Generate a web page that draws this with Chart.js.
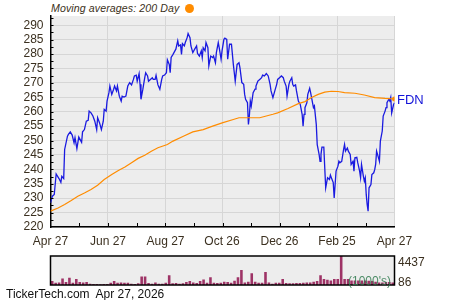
<!DOCTYPE html>
<html>
<head>
<meta charset="utf-8">
<script src="https://cdn.jsdelivr.net/npm/chart.js@4"></script>
<style>
  body { margin: 0; width: 450px; height: 300px; background: #fff; position: relative; overflow: hidden;
         font-family: "Liberation Sans", Arial, sans-serif; }
  .abs { position: absolute; white-space: nowrap; line-height: 14px; }
  #title { left: 51px; top: 1px; font-size: 10.6px; font-style: italic; color: #3b3020; letter-spacing: 0.1px; }
  #dot { display: inline-block; width: 9px; height: 9px; border-radius: 50%; background: #ff8c00; margin-left: 6px; vertical-align: -1px; }
  #sym { left: 397px; top: 93px; font-size: 13px; color: #1414d8; }
  #vmax { left: 398px; top: 255px; font-size: 12px; color: #3b3020; }
  #vmin { left: 398px; top: 275px; font-size: 12px; color: #3b3020; }
  #units { left: 348px; top: 274px; font-size: 12px; color: #2f7a4e; opacity: 0.85; }
  #foot { left: 6px; top: 287px; font-size: 12px; color: #111; }
</style>
</head>
<body>
<div id="title" class="abs">Moving averages: 200 Day<span id="dot"></span></div>
<div style="position:absolute;left:0;top:0;"><canvas id="main" width="450" height="250"></canvas></div>
<div style="position:absolute;left:0;top:250px;"><canvas id="vol" width="450" height="40"></canvas></div>
<div id="sym" class="abs">FDN</div>
<div id="vmax" class="abs">4437</div>
<div id="vmin" class="abs">86</div>
<div id="units" class="abs">(1000's)</div>
<div id="foot" class="abs">TickerTech.com&nbsp; Apr 27, 2026</div>

<script>
// x values are calendar days after Apr 27
const tickDays = [0, 61, 122, 182, 243, 304, 365];
const tickLabels = ["Apr 27", "Jun 27", "Aug 27", "Oct 26", "Dec 26", "Feb 25", "Apr 27"];

const priceDays = [
    0, 2, 4, 6, 9, 11, 12, 14, 15, 18,
    19, 21, 23, 25, 26, 28, 30, 33, 34, 36,
    38, 40, 41, 43, 45, 47, 49, 50, 52, 54,
    56, 57, 59, 60, 62, 63, 65, 67, 68, 70,
    71, 73, 75, 76, 78, 80, 82, 84, 86, 88,
    89, 91, 92, 94, 95, 96, 98, 100, 101, 103,
    104, 106, 108, 109, 111, 112, 114, 116, 118, 119,
    121, 123, 124, 126, 127, 128, 130, 132, 133, 135,
    136, 138, 139, 140, 142, 143, 145, 146, 148, 149,
    151, 153, 155, 156, 158, 160, 161, 162, 164, 165,
    167, 168, 170, 172, 173, 175, 176, 178, 179, 181,
    182, 184, 185, 187, 188, 190, 192, 194, 195, 196,
    198, 200, 201, 203, 205, 206, 207, 209, 210, 211,
    212, 213, 215, 217, 218, 220, 222, 224, 225, 227,
    229, 231, 233, 234, 236, 238, 240, 241, 243, 245,
    247, 248, 250, 251, 253, 254, 256, 257, 258, 260,
    261, 263, 264, 265, 267, 268, 269, 270, 272, 273,
    275, 276, 277, 279, 280, 282, 283, 285, 286, 287,
    288, 290, 291, 292, 293, 294, 296, 297, 298, 300,
    301, 303, 305, 306, 307, 309, 311, 312, 313, 315,
    316, 318, 319, 321, 322, 323, 325, 326, 328, 329,
    330, 332, 333, 334, 335, 336, 337, 338, 340, 341,
    343, 344, 345, 346, 347, 349, 350, 352, 353, 355,
    356, 357, 359, 360, 361, 362, 364, 365
];
const priceValues = [
    228.4, 230.7, 231.3, 238.4, 236.8, 235.5, 237.6, 236.8, 246.9, 251.5,
    252.1, 253.0, 251.9, 249.2, 251.0, 247.2, 251.2, 249.4, 253.0, 253.8,
    256.7, 257.0, 260.2, 259.6, 258.5, 256.7, 253.8, 257.9, 256.2, 253.8,
    256.7, 260.8, 260.2, 263.7, 266.6, 268.9, 266.0, 267.8, 268.9, 267.2,
    268.9, 265.4, 263.7, 265.4, 265.1, 265.4, 268.9, 270.1, 269.3, 271.2,
    272.4, 272.7, 270.6, 273.2, 269.5, 264.3, 267.8, 271.8, 273.5, 272.4,
    270.6, 271.2, 271.8, 271.2, 271.2, 272.6, 269.3, 267.8, 271.2, 272.4,
    272.7, 273.5, 278.0, 276.4, 273.5, 278.8, 279.9, 281.1, 281.7, 284.6,
    282.8, 283.2, 279.9, 283.6, 282.8, 284.0, 285.7, 287.1, 285.7, 282.8,
    280.5, 281.7, 282.8, 280.2, 279.3, 281.1, 278.8, 282.2, 281.1, 284.0,
    282.2, 275.9, 279.3, 278.8, 279.3, 277.0, 280.5, 284.0, 282.2, 278.2,
    281.1, 285.1, 285.5, 285.1, 278.2, 283.4, 283.4, 276.4, 273.5, 270.6,
    276.4, 277.0, 275.3, 270.1, 269.5, 266.0, 264.3, 263.1, 255.6, 258.5,
    263.7, 262.0, 266.6, 267.8, 268.9, 270.6, 271.2, 271.8, 272.7, 272.4,
    273.2, 272.4, 269.5, 267.2, 264.9, 267.2, 269.5, 271.2, 271.8, 272.4,
    271.8, 270.6, 268.9, 265.4, 269.5, 270.6, 271.8, 269.5, 268.9, 269.3,
    267.2, 263.7, 263.1, 262.5, 259.1, 255.0, 259.1, 261.4, 263.1, 266.0,
    268.1, 266.6, 264.9, 261.4, 262.0, 255.6, 248.6, 245.2, 242.8, 245.2,
    247.7, 247.7, 240.5, 233.6, 235.4, 237.1, 236.5, 238.0, 237.1, 235.4,
    230.1, 239.4, 241.1, 242.8, 242.3, 242.8, 246.9, 248.6, 246.3, 247.4,
    246.3, 245.2, 241.7, 242.8, 239.4, 244.0, 244.2, 242.3, 239.4, 237.1,
    241.7, 237.6, 235.9, 237.1, 231.3, 227.8, 225.5, 233.6, 234.7, 238.2,
    238.8, 239.9, 241.7, 246.3, 245.2, 242.8, 249.8, 253.3, 258.5, 260.2,
    261.4, 263.1, 264.3, 263.7, 264.9, 259.6, 262.5, 263.1
];

// 200 day moving average
const maDays = [0, 8, 15, 22, 29, 36, 43, 50, 57, 65, 72, 79, 86, 93, 100, 107, 114, 124, 130, 141,
    151, 162, 172, 183, 194, 200, 211, 222, 229, 236, 241, 252, 263, 270, 277, 284, 291, 298, 305, 312,
    323, 333, 344, 355, 365];
const maValues = [225.5, 226.6, 227.8, 229.2, 230.7, 231.8, 233.0, 234.5, 236.5, 238.2, 239.6, 240.8, 242.3, 243.8, 244.9, 246.3, 247.5, 248.6, 249.8, 251.5,
    253.0, 253.8, 255.0, 256.2, 257.3, 257.9, 257.9, 257.9, 258.5, 259.1, 259.6, 261.1, 262.8, 263.5, 264.9, 266.0, 266.8, 267.1, 267.0, 266.6,
    266.4, 265.8, 264.9, 264.6, 264.4];

// volume in 1000's, evenly spaced over the year
const volumeValues = [
    600, 350, 400, 1000, 450, 1100, 350, 900, 450, 400,
    450, 200, 150, 150, 100, 150, 150, 350, 600, 350,
    400, 350, 350, 200, 150, 250, 1300, 1300, 300, 200,
    400, 200, 200, 350, 1500, 250, 300, 200, 250, 450,
    600, 400, 300, 600, 850, 350, 1200, 350, 300, 350,
    500, 450, 350, 650, 1200, 2300, 400, 500, 1800, 500,
    350, 350, 2000, 400, 200, 350, 350, 900, 300, 250,
    250, 300, 300, 350, 400, 400, 500, 600, 1500, 900,
    800, 700, 900, 900, 4437, 900, 900, 700, 700, 700,
    700, 700, 650, 600, 500, 400, 400, 450, 450, 400
];
const volumeMin = 86;
const volumeMax = 4437;

const yTicks = [220, 225, 230, 235, 240, 245, 250, 255, 260, 265, 270, 275, 280, 285, 290];

const textColor = "#3b3020";
const fontSpec = { family: "'Liberation Sans', Arial, sans-serif", size: 12 };

// grey plot background
const plotBg = {
    id: "plotBg",
    beforeDraw(chart) {
        const a = chart.chartArea, ctx = chart.ctx;
        ctx.save();
        ctx.fillStyle = "#ededed";
        ctx.fillRect(a.left, a.top, a.right - a.left, a.bottom - a.top);
        ctx.restore();
    }
};

// small tick marks drawn inside the plot
const innerTicks = {
    id: "innerTicks",
    afterDraw(chart) {
        const a = chart.chartArea, ctx = chart.ctx;
        const xs = chart.scales.x, ys = chart.scales.y;
        ctx.save();
        ctx.strokeStyle = "#000";
        ctx.lineWidth = 1;
        ctx.beginPath();
        for (let m = 1; m < 12; m++) {
            const px = Math.round(xs.getPixelForValue(m * 365 / 12)) + 0.5;
            ctx.moveTo(px, a.bottom);
            ctx.lineTo(px, a.bottom - 4);
        }
        for (let v = 222.5; v < 293; v += 2.5) {
            const py = Math.round(ys.getPixelForValue(v)) + 0.5;
            ctx.moveTo(a.left, py);
            ctx.lineTo(a.left + 3, py);
        }
        ctx.stroke();
        ctx.restore();
    }
};

new Chart(document.getElementById("main"), {
    type: "line",
    data: {
        datasets: [
            {
                label: "200 Day",
                data: maDays.map((d, i) => ({ x: d, y: maValues[i] })),
                borderColor: "#ff8c00",
                borderWidth: 1.2,
                pointRadius: maDays.map((d, i) => i === maDays.length - 1 ? 2.5 : 0),
                pointBackgroundColor: "#ff8c00",
                pointBorderWidth: 0,
                tension: 0
            },
            {
                label: "FDN",
                data: priceDays.map((d, i) => ({ x: d, y: priceValues[i] })),
                borderColor: "#1a1ae0",
                borderWidth: 1.3,
                pointRadius: 0,
                tension: 0
            }
        ]
    },
    options: {
        responsive: false,
        animation: false,
        layout: { padding: { top: 16, right: 55.5, left: 0, bottom: 0 } },
        plugins: { legend: { display: false }, tooltip: { enabled: false } },
        scales: {
            x: {
                type: "linear",
                min: 0,
                max: 365,
                afterBuildTicks: scale => { scale.ticks = tickDays.map(v => ({ value: v })); },
                afterFit: scale => { scale.height = 23; },
                ticks: {
                    callback: (v) => tickLabels[tickDays.indexOf(v)],
                    color: textColor,
                    font: fontSpec,
                    padding: 7,
                    maxRotation: 0,
                    autoSkip: false
                },
                grid: { color: "#d6d6d6", lineWidth: 1, drawTicks: false },
                border: { color: "#000", width: 1.5 }
            },
            y: {
                min: 220,
                max: 293.2,
                afterBuildTicks: scale => { scale.ticks = yTicks.map(v => ({ value: v })); },
                afterFit: scale => { scale.width = 50.5; },
                ticks: { color: textColor, font: fontSpec, padding: 7, autoSkip: false },
                grid: { color: "#d6d6d6", lineWidth: 1, drawTicks: false },
                border: { color: "#000", width: 1.5 }
            }
        }
    },
    plugins: [plotBg, innerTicks]
});

// volume panel frame
const volFrame = {
    id: "volFrame",
    afterDraw(chart) {
        const a = chart.chartArea, ctx = chart.ctx;
        ctx.save();
        ctx.strokeStyle = "#000";
        ctx.lineWidth = 1.5;
        ctx.strokeRect(a.left, a.top, a.right - a.left, a.bottom - a.top);
        ctx.restore();
    }
};

new Chart(document.getElementById("vol"), {
    type: "bar",
    data: {
        labels: volumeValues.map(() => ""),
        datasets: [{
            data: volumeValues,
            backgroundColor: "#9e3366",
            barPercentage: 0.75,
            categoryPercentage: 1
        }]
    },
    options: {
        responsive: false,
        animation: false,
        layout: { padding: { top: 6, right: 55.5, left: 50.5, bottom: 5 } },
        plugins: { legend: { display: false }, tooltip: { enabled: false } },
        scales: {
            x: { display: false },
            y: { display: false, min: 0, max: volumeMax }
        }
    },
    plugins: [plotBg, volFrame]
});
</script>
</body>
</html>
